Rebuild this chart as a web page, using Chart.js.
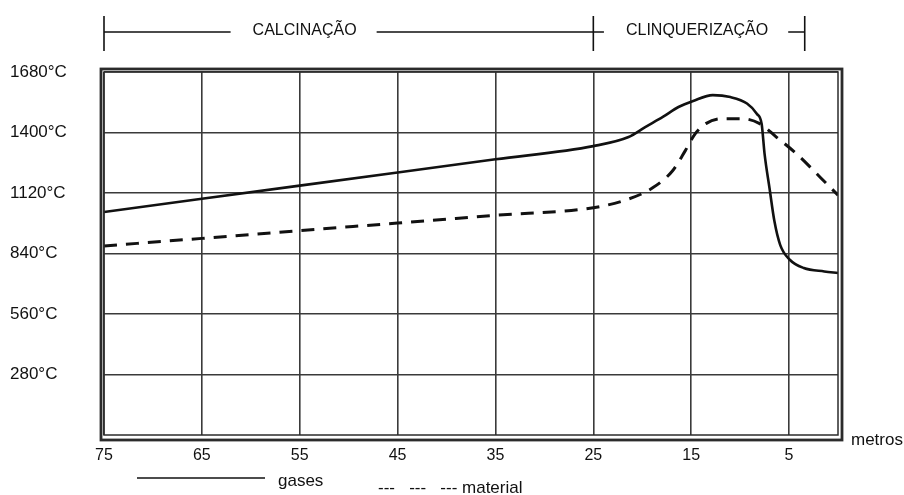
<!DOCTYPE html>
<html>
<head>
<meta charset="utf-8">
<script src="https://cdn.jsdelivr.net/npm/chart.js@4/dist/chart.umd.min.js"></script>
<style>
  html, body { margin: 0; background: #fff; }
  #wrap { width: 904px; height: 495px; position: relative; }
</style>
</head>
<body>
<div id="wrap"><canvas id="kiln"></canvas></div>
<script>
// distance along the kiln (metros) and temperature ticks
const distTicks = [75, 65, 55, 45, 35, 25, 15, 5];
const tempTicks = [280, 560, 840, 1120, 1400, 1680];

// gases (solid)
const gasesX = [75, 65, 55, 45, 35, 25, 21.4, 19.7, 17.9, 16.3, 14.8, 12.8, 11.0, 9.3, 8.3, 7.8, 7.5, 7.0, 6.5, 5.9, 4.9, 3.5, 1.4, 0];
const gasesT = [1032, 1093, 1154, 1215, 1276, 1337, 1379, 1425, 1472, 1518, 1546, 1573, 1564, 1534, 1487, 1439, 1300, 1143, 990, 879, 810, 773, 757, 750];

// material (dashed)
const materialX = [75, 65, 55, 45, 35, 25, 21.4, 18.9, 16.9, 15.6, 14.6, 13.5, 11.8, 9.8, 8.0, 6.3, 4.2, 1.8, 0];
const materialT = [875, 910, 946, 981, 1017, 1052, 1092, 1145, 1223, 1316, 1394, 1441, 1464, 1464, 1441, 1379, 1300, 1192, 1110];

// zones marked above the chart
const zoneNames = ['CALCINAÇÃO', 'CLINQUERIZAÇÃO'];
const zoneBounds = [75, 25, 3.4];
const zoneTextAt = [54.5, 14.4];

const FONT = '"Liberation Sans", Arial, sans-serif';
const INK = '#111';

const toPoints = (xs, ys) => xs.map((x, i) => ({ x, y: ys[i] }));

const frame = {
  id: 'frame',
  afterDraw(chart) {
    const { ctx, chartArea: a, scales: { x } } = chart;
    ctx.save();
    ctx.strokeStyle = '#2b2b2b';
    ctx.lineWidth = 1.5;
    ctx.strokeRect(a.left, a.top, a.right - a.left, a.bottom - a.top);
    ctx.lineWidth = 2.8;
    ctx.strokeRect(a.left - 3, a.top - 3, a.right - a.left + 7, a.bottom - a.top + 8);

    // zone brackets
    ctx.font = '16px ' + FONT;
    ctx.fillStyle = INK;
    ctx.strokeStyle = INK;
    ctx.textAlign = 'center';
    ctx.textBaseline = 'middle';
    ctx.lineWidth = 1.6;
    const yb = 31;
    zoneBounds.forEach((b) => {
      const px = x.getPixelForValue(b);
      ctx.beginPath();
      ctx.moveTo(px, 16);
      ctx.lineTo(px, 51);
      ctx.stroke();
    });
    zoneNames.forEach((name, i) => {
      const l = x.getPixelForValue(zoneBounds[i]);
      const r = x.getPixelForValue(zoneBounds[i + 1]);
      const c = x.getPixelForValue(zoneTextAt[i]);
      const w = ctx.measureText(name).width;
      ctx.fillText(name, c, yb);
      const gl = c - w / 2 - 22;
      const gr = c + w / 2 + 20;
      ctx.beginPath();
      if (gl > l) { ctx.moveTo(l, yb + 1); ctx.lineTo(gl, yb + 1); }
      if (gr < r) { ctx.moveTo(gr, yb + 1); ctx.lineTo(r, yb + 1); }
      ctx.stroke();
    });

    // axis name and legend
    ctx.textAlign = 'left';
    ctx.font = '17px ' + FONT;
    ctx.fillText('metros', 851, 440);
    ctx.beginPath();
    ctx.moveTo(137, 478);
    ctx.lineTo(265, 478);
    ctx.stroke();
    ctx.fillText('gases', 278, 481);
    ctx.fillText('---   ---   --- material', 378, 488);
    ctx.restore();
  }
};

new Chart(document.getElementById('kiln'), {
  type: 'line',
  data: {
    datasets: [
      {
        label: 'gases',
        data: toPoints(gasesX, gasesT),
        borderColor: INK,
        borderWidth: 2.6,
        pointRadius: 0,
        cubicInterpolationMode: 'monotone',
      },
      {
        label: 'material',
        data: toPoints(materialX, materialT),
        borderColor: INK,
        borderWidth: 3,
        borderDash: [13, 9],
        pointRadius: 0,
        cubicInterpolationMode: 'monotone',
      },
    ],
  },
  options: {
    responsive: true,
    maintainAspectRatio: false,
    animation: false,
    layout: { padding: { left: 10, right: 66, top: 72, bottom: 0 } },
    plugins: { legend: { display: false }, tooltip: { enabled: false } },
    scales: {
      x: {
        type: 'linear',
        reverse: true,
        min: 0,
        max: 75,
        afterBuildTicks: (s) => { s.ticks = distTicks.map((v) => ({ value: v })); },
        afterFit: (s) => { s.height = 60; },
        grid: { color: '#3a3a3a', lineWidth: 1.6, drawTicks: false },
        border: { display: false },
        ticks: { padding: 11, color: INK, font: { family: FONT, size: 16 }, maxRotation: 0 },
      },
      y: {
        min: 0,
        max: 1680,
        afterBuildTicks: (s) => { s.ticks = tempTicks.map((v) => ({ value: v })); },
        afterFit: (s) => { s.width = 94; },
        grid: { color: '#3a3a3a', lineWidth: 1.6, drawTicks: false },
        border: { display: false },
        ticks: {
          crossAlign: 'far',
          color: INK,
          font: { family: FONT, size: 17 },
          callback: (v) => v + '°C',
        },
      },
    },
  },
  plugins: [frame],
});
</script>
</body>
</html>
